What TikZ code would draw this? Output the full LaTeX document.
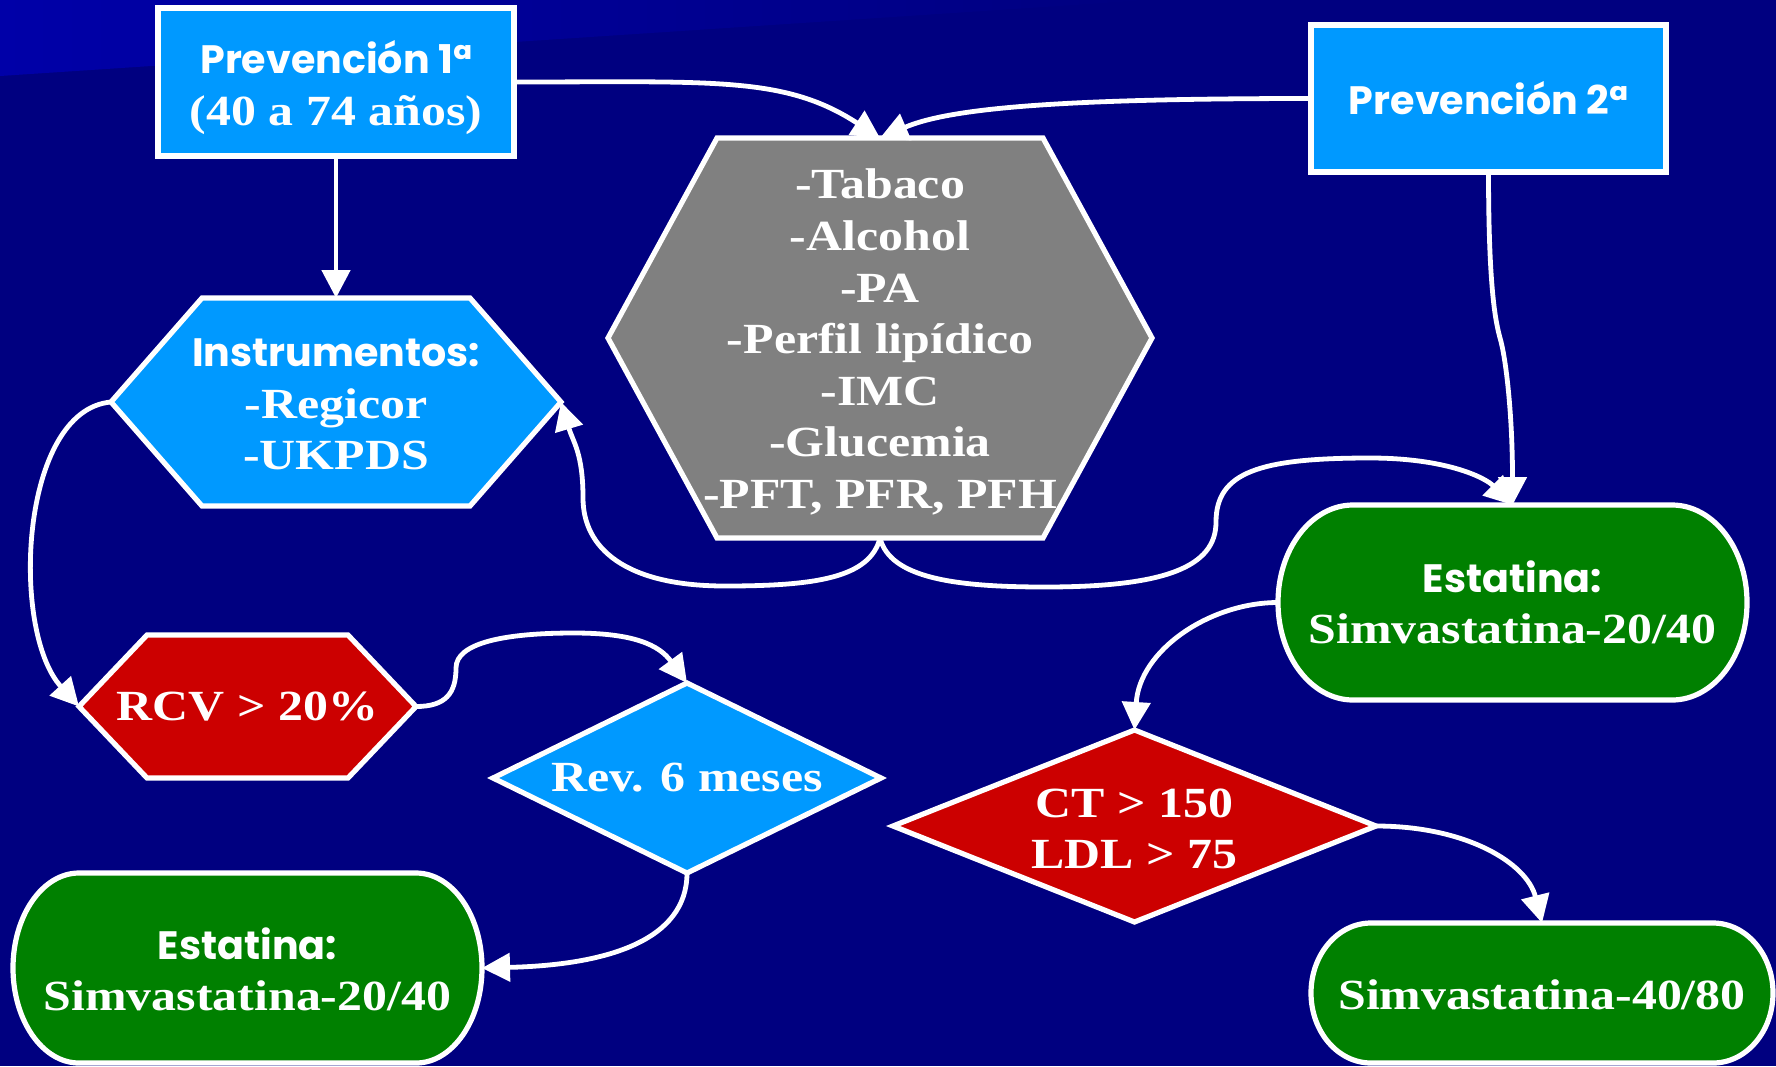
\documentclass[tikz,border=0pt]{standalone}
\usepackage{fontspec}
\usetikzlibrary{arrows.meta,calc}
\newfontfamily\serifb{Liberation Serif}[FakeStretch=1.16]
\newfontfamily\sansb{Poppins}
\newcommand\txtser{\serifb\bfseries\fontsize{21.5}{25.8}\selectfont}
\newcommand\txtsans{\sansb\bfseries\fontsize{19.8}{25.8}\selectfont}
\newcommand\up[1]{\rule{0pt}{#1}}
\definecolor{cNavy}{RGB}{0,0,128}
\definecolor{cBand}{RGB}{0,0,168}
\definecolor{cBlue}{RGB}{0,153,255}
\definecolor{cRed}{RGB}{204,0,0}
\definecolor{cGreen}{RGB}{0,128,0}
\definecolor{cGray}{RGB}{128,128,128}
\pgfdeclarelayer{back}
\pgfdeclarelayer{bg}
\pgfsetlayers{back,bg,main}
\newcommand\hexdraw[3]{\draw[#3] (#1.west) -- ($(#1.north west)+(#2,0)$) -- ($(#1.north east)+(-#2,0)$) -- (#1.east) -- ($(#1.south east)+(-#2,0)$) -- ($(#1.south west)+(#2,0)$) -- cycle;}
\newcommand\termdraw[3]{\draw[#3] ($(#1.north west)+(#2,0)$) -- ($(#1.north east)+(-#2,0)$)
 .. controls ($(#1.north east)+(-0.4477*#2,0)$) and ($(#1.east)!0.5523!(#1.north east)$) .. (#1.east)
 .. controls ($(#1.east)!0.5523!(#1.south east)$) and ($(#1.south east)+(-0.4477*#2,0)$) .. ($(#1.south east)+(-#2,0)$)
 -- ($(#1.south west)+(#2,0)$)
 .. controls ($(#1.south west)+(0.4477*#2,0)$) and ($(#1.west)!0.5523!(#1.south west)$) .. (#1.west)
 .. controls ($(#1.west)!0.5523!(#1.north west)$) and ($(#1.north west)+(0.4477*#2,0)$) .. ($(#1.north west)+(#2,0)$) -- cycle;}
\begin{document}
\begin{tikzpicture}[x=0.5pt,y=-0.5pt,
 box/.style={inner sep=0pt,outer sep=0pt,text=white,align=center,font=\txtser},
 rectbox/.style={box,draw=white,line width=2.6pt,fill=cBlue},
 shp/.style={draw=white,line width=2.6pt},
 conn/.style={draw=white,line width=2.4pt,-{Triangle[length=14pt,width=14pt]}}]
\begin{pgfonlayer}{back}
\fill[cNavy] (0,0) rectangle (1776,1066);
\shade[left color=cBand,right color=cNavy] (0,0) -- (1150,0) -- (0,76) -- cycle;
\end{pgfonlayer}
\useasboundingbox (0,0) rectangle (1776,1066);

\node[rectbox,minimum width=178pt,minimum height=74pt] (p1) at (336,82) {\up{22pt}{\txtsans Prevención 1ª}\\(40 a 74 años)};
\node[rectbox,minimum width=177.5pt,minimum height=73.5pt] (p2) at (1488.5,98.5) {\txtsans Prevención 2ª};
\node[box,minimum width=272pt,minimum height=200pt] (g) at (880,338) {\up{19pt}-Tabaco\\-Alcohol\\-PA\\-Perfil lipídico\\-IMC\\-Glucemia\\-PFT, PFR, PFH};
\node[box,minimum width=225pt,minimum height=104pt] (ins) at (336,402) {\up{16.5pt}{\txtsans Instrumentos:}\\-Regicor\\-UKPDS};
\node[box,minimum width=168.5pt,minimum height=71.5pt] (rcv) at (247.5,706.5) {RCV > 20\%};
\node[box,minimum width=194pt,minimum height=95pt] (rev) at (687,778) {Rev. 6 meses};
\node[box,minimum width=241.5pt,minimum height=96pt] (ct) at (1134.5,826) {\up{17pt}CT > 150\\LDL > 75};
\node[box,minimum width=234.5pt,minimum height=95pt] (e1) at (247.5,968) {\up{17pt}{\txtsans Estatina:}\\Simvastatina-20/40};
\node[box,minimum width=234.5pt,minimum height=97.5pt] (e2) at (1512.5,602.5) {{\txtsans Estatina:}\\Simvastatina-20/40};
\node[box,minimum width=231pt,minimum height=70pt] (e3) at (1542,993) {\up{16.5pt}Simvastatina-40/80};

\begin{pgfonlayer}{bg}
\hexdraw{g}{109}{shp,fill=cGray}
\hexdraw{ins}{91}{shp,fill=cBlue}
\hexdraw{rcv}{68}{shp,fill=cRed}
\draw[shp,fill=cBlue] (rev.north) -- (rev.east) -- (rev.south) -- (rev.west) -- cycle;
\draw[shp,fill=cRed] (ct.north) -- (ct.east) -- (ct.south) -- (ct.west) -- cycle;
\termdraw{e1}{66}{shp,fill=cGreen}
\termdraw{e2}{75}{shp,fill=cGreen}
\termdraw{e3}{60}{shp,fill=cGreen}
\end{pgfonlayer}

\coordinate (k1) at (1500,338);
\coordinate (m1) at (725,586);
\coordinate (k4) at (583,498);
\coordinate (m2) at (1045,587);
\coordinate (k2) at (1216,522);
\coordinate (m3) at (1370,458);
\coordinate (k3) at (456,668);
\coordinate (m4) at (574,633);

\draw[conn] (p1.south) -- (ins.north);
\draw[conn] (p1.east) .. controls +(200,0) and +(-95,-62) .. (g.north);
\draw[conn] (p2.west) .. controls +(-250,0) and +(70,-30) .. (g.north);
\draw[conn] (p2.south) .. controls +(0,120) and +(-4,-15) .. (k1) .. controls +(6,20) and +(0,-90) .. (e2.north);
\draw[conn] (g.south) .. controls +(-10,40) and +(90,0) .. (m1) .. controls +(-100,0) and +(0,50) .. (k4) .. controls +(0,-45) and +(12,40) .. (ins.east);
\draw[conn] (g.south) .. controls +(10,40) and +(-90,0) .. (m2) .. controls +(120,0) and +(0,45) .. (k2) .. controls +(0,-50) and +(-110,0) .. (m3) .. controls +(75,0) and +(-28,-28) .. (e2.north);
\draw[conn] (ins.west) .. controls +(-91,8) and +(-69,-76) .. (rcv.west);
\draw[conn] (rcv.east) .. controls +(30,0) and +(0,25) .. (k3) .. controls +(0,-25) and +(-70,0) .. (m4) .. controls +(60,0) and +(-28,-38) .. (rev.north);
\draw[conn] (rev.south) .. controls +(0,67) and +(126,-3) .. (e1.east);
\draw[conn] (e2.west) .. controls +(-68,0) and +(5,-80) .. (ct.north);
\draw[conn] (ct.east) .. controls +(90,0) and +(-15,-60) .. (e3.north);
\end{tikzpicture}
\end{document}
